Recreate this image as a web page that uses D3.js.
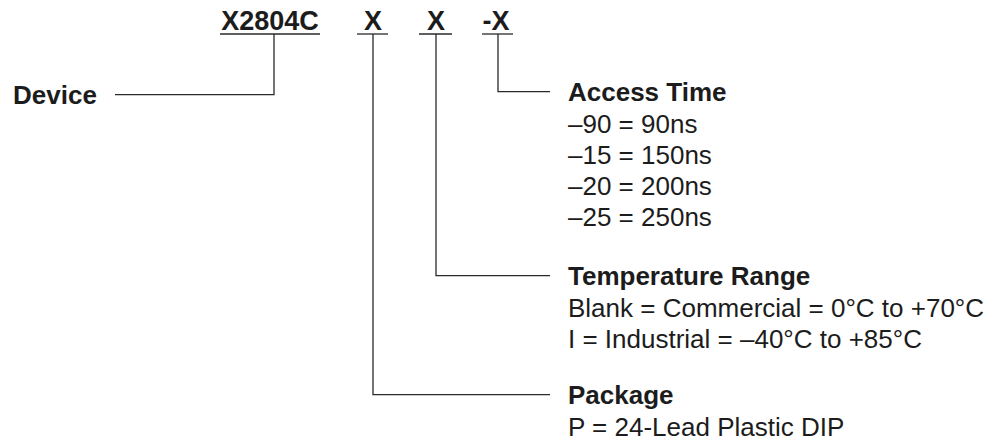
<!DOCTYPE html>
<html>
<head>
<meta charset="utf-8">
<script src="https://cdn.jsdelivr.net/npm/d3@7"></script>
<style>
  html, body { margin: 0; padding: 0; background: #fff; }
  svg { display: block; font-family: "Liberation Sans", Arial, Helvetica, sans-serif; }
  .code { font-weight: bold; font-size: 27px; fill: #1c1c1c; }
  .head { font-weight: bold; font-size: 26px; fill: #1c1c1c; }
  .opt { font-size: 26px; fill: #1c1c1c; }
  .lead { stroke: #2a2a2a; stroke-width: 1.3; fill: none; }
</style>
</head>
<body>
<div id="d3-container"></div>
<script>
/* CONSTANTS AND GLOBALS */
const width = 1006,
  height = 446;

/* DATA */
// the ordering code, one field after another
const codes = ["X2804C", "X", "X", "-X"];
// what each field stands for
const fields = ["Device", "Package", "Temperature Range", "Access Time"];
// choices listed under each field
const accessOptions = ["–90 = 90ns", "–15 = 150ns", "–20 = 200ns", "–25 = 250ns"];
const tempOptions = ["Blank = Commercial = 0°C to +70°C", "I = Industrial = –40°C to +85°C"];
const packageOptions = ["P = 24-Lead Plastic DIP"];
const deviceOptions = [];

/* LAYOUT (positions only, kept apart from the data) */
const codeBaseline = 30,
  underlineY = 34,
  codeCenter = [270, 373, 436, 496],
  underline = [[220, 320], [357, 388], [419, 452], [482, 513]],
  stemX = [274, 373, 436, 498],
  headBaseline = [104, 404, 285, 101], // baseline of each field's heading
  labelX = 568,
  leaderEnd = 550,
  rowStep = 31;

const optionLists = [deviceOptions, packageOptions, tempOptions, accessOptions];

// row index -> baseline offset below the heading
const rowScale = d3.scaleLinear().domain([0, 1]).range([31.5, 31.5 + rowStep]);

const svg = d3
  .select("#d3-container")
  .append("svg")
  .attr("width", width)
  .attr("height", height);

// + CODE LETTERS
svg.selectAll("text.code")
  .data(codes)
  .join("text")
  .attr("class", "code")
  .attr("x", (d, i) => codeCenter[i])
  .attr("y", codeBaseline)
  .attr("text-anchor", "middle")
  .text(d => d);

// + UNDERLINES
svg.selectAll("line.under")
  .data(codes)
  .join("line")
  .attr("class", "lead under")
  .attr("x1", (d, i) => underline[i][0])
  .attr("x2", (d, i) => underline[i][1])
  .attr("y1", underlineY)
  .attr("y2", underlineY);

// + LEADER LINES (down from the code, then across to the label)
const leaderY = headBaseline.map(b => b - 9.3);
svg.selectAll("path.leader")
  .data(codes)
  .join("path")
  .attr("class", "lead leader")
  .attr("d", (d, i) => {
    const p = d3.path();
    p.moveTo(stemX[i], underlineY);
    p.lineTo(stemX[i], leaderY[i]);
    // Device sits to the left, the other fields to the right
    p.lineTo(i === 0 ? 115 : leaderEnd, leaderY[i]);
    return p.toString();
  });

// + FIELD HEADINGS
svg.selectAll("text.head")
  .data(fields)
  .join("text")
  .attr("class", "head")
  .attr("x", (d, i) => i === 0 ? 13 : labelX)
  .attr("y", (d, i) => headBaseline[i])
  .text(d => d);

// + OPTIONS UNDER EACH HEADING
const groups = svg.selectAll("g.opts")
  .data(optionLists)
  .join("g")
  .attr("class", "opts")
  .attr("transform", (d, i) => `translate(${labelX}, ${headBaseline[i]})`);

groups.selectAll("text")
  .data(d => d)
  .join("text")
  .attr("class", "opt")
  .attr("y", (d, j) => rowScale(j))
  .text(d => d);
</script>
</body>
</html>
